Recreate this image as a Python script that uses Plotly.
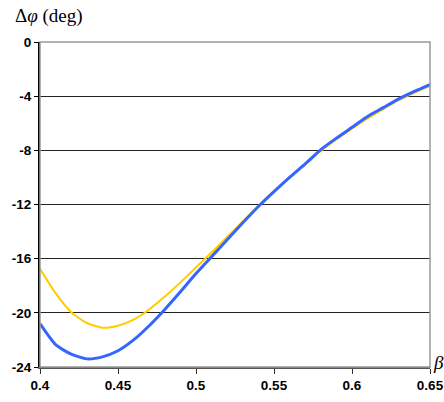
import plotly.graph_objects as go

beta = [0.40, 0.41, 0.42, 0.43, 0.44, 0.45, 0.46, 0.47, 0.48, 0.49, 0.50,
        0.51, 0.52, 0.53, 0.54, 0.55, 0.56, 0.57, 0.58, 0.59, 0.60,
        0.61, 0.62, 0.63, 0.64, 0.65]

dphi_blue = [-20.8, -22.35, -23.05, -23.4, -23.25, -22.8, -22.0, -20.95, -19.75, -18.45, -17.1,
             -15.85, -14.6, -13.35, -12.15, -11.05, -10.0, -9.0, -7.95, -7.1, -6.3,
             -5.5, -4.85, -4.2, -3.65, -3.15]

dphi_yellow = [-16.75, -18.55, -19.95, -20.75, -21.1, -20.95, -20.5, -19.75, -18.8, -17.75, -16.65,
               -15.55, -14.4, -13.25, -12.1, -11.0, -10.0, -9.05, -8.05, -7.2, -6.4,
               -5.65, -4.95, -4.3, -3.75, -3.25]

x_ticks = [0.4, 0.45, 0.5, 0.55, 0.6, 0.65]
x_labels = ["0.4", "0.45", "0.5", "0.55", "0.6", "0.65"]
y_ticks = [0, -4, -8, -12, -16, -20, -24]
y_labels = ["0", "-4", "-8", "-12", "-16", "-20", "-24"]

fig = go.Figure()
fig.add_trace(go.Scatter(x=beta, y=dphi_yellow, mode="lines",
                         line=dict(color="#FFCC00", width=2, shape="spline", smoothing=0.6),
                         showlegend=False))
fig.add_trace(go.Scatter(x=beta, y=dphi_blue, mode="lines",
                         line=dict(color="#3366FF", width=3, shape="spline", smoothing=0.6),
                         showlegend=False))

tickfont = dict(family="Liberation Sans, Arial", size=13.5, color="black", weight="bold")

fig.update_layout(
    width=444, height=402,
    margin=dict(l=40, r=14, t=42, b=35),
    paper_bgcolor="white", plot_bgcolor="white",
    xaxis=dict(range=[0.4, 0.65], tickvals=x_ticks, ticktext=x_labels, showgrid=False, zeroline=False,
               showline=True, linecolor="#555555", linewidth=2, ticks="outside", ticklen=5, tickwidth=1,
               tickcolor="#333333", tickfont=tickfont, automargin=False),
    yaxis=dict(range=[-24, 0], tickvals=y_ticks, ticktext=y_labels, showgrid=True, gridcolor="#222222",
               gridwidth=1, zeroline=False, showline=True, linecolor="black", linewidth=2,
               ticks="outside", ticklen=4, tickwidth=1, tickcolor="black", tickfont=tickfont,
               automargin=False),
    shapes=[dict(type="rect", xref="paper", yref="paper", x0=0, x1=1, y0=0, y1=1,
                 line=dict(color="#999999", width=1.5), layer="above")],
    annotations=[
        dict(text="Δ<i>φ</i> (deg)", xref="paper", yref="paper", x=-0.07, y=1.08,
             xanchor="left", yanchor="middle", showarrow=False,
             font=dict(family="Liberation Serif, Times New Roman", size=19, color="black")),
        dict(text="<i>β</i>", xref="paper", yref="paper", x=1.003, y=0.015,
             xanchor="left", yanchor="middle", showarrow=False,
             font=dict(family="Liberation Serif, Times New Roman", size=19, color="black")),
    ],
)

fig.write_html("out.html", config={"displayModeBar": False},
               post_script="document.body.style.margin='0';")
